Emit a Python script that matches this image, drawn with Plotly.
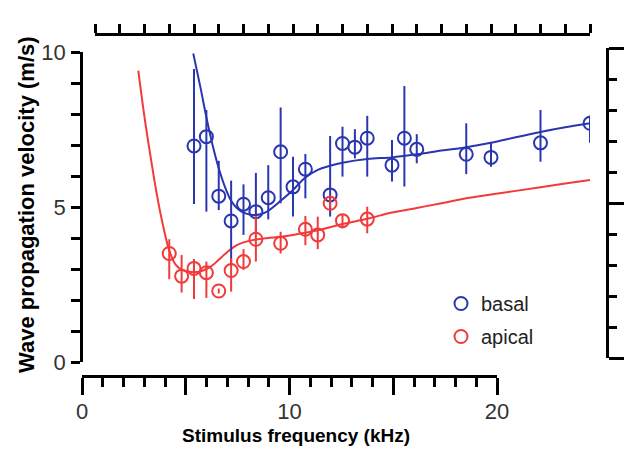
import plotly.graph_objects as go

# ---- data (kHz, m/s) ----
basal_x = [4, 4.5, 5, 5.5, 6, 6.5, 7, 7.5, 8, 8.5, 9.5, 10, 10.5, 11, 12, 12.5, 13, 15, 16, 18, 20]
basal_y = [6.97, 7.27, 5.35, 4.55, 5.09, 4.85, 5.30, 6.78, 5.65, 6.22, 5.39, 7.05, 6.93, 7.22, 6.35, 7.22, 6.86, 6.70, 6.60, 7.07, 7.70]
basal_err_up = [2.48, 0.86, 1.14, 1.30, 0.64, 1.25, 1.05, 1.43, 0.97, 0.49, 1.90, 0.54, 0.58, 0.72, 0.81, 1.68, 0.49, 1.00, 0.49, 1.06, 0.25]
basal_err_dn = [1.87, 2.42, 0.45, 1.45, 0.99, 0.69, 0.70, 1.66, 0.96, 0.94, 0.70, 1.07, 0.36, 1.24, 0.53, 1.56, 0.45, 0.64, 0.30, 0.61, 0.63]

apical_x = [3, 3.5, 4, 4.5, 5, 5.5, 6, 6.5, 7.5, 8.5, 9, 9.5, 10, 11]
apical_y = [3.50, 2.77, 3.02, 2.88, 2.29, 2.95, 3.24, 3.96, 3.83, 4.28, 4.10, 5.12, 4.56, 4.61]
apical_err_up = [0.46, 0.68, 0.30, 0.36, 0.08, 0.40, 0.40, 0.75, 0.37, 0.43, 0.59, 0.15, 0.20, 0.40]
apical_err_dn = [0.83, 0.53, 0.99, 0.81, 0.08, 0.68, 0.27, 0.72, 0.33, 0.51, 0.46, 0.15, 0.25, 0.46]

basal_fit_x = [3.97, 4.25, 4.5, 4.75, 5.0, 5.25, 5.5, 5.75, 6.0, 6.25, 6.5, 6.75, 7.0, 7.5, 8.0, 8.5, 9.0, 9.5,
               10, 11, 12, 13, 14, 15, 16, 17, 18, 19, 20]
basal_fit_y = [9.95, 8.9, 7.9, 7.0, 6.25, 5.65, 5.2, 4.95, 4.82, 4.76, 4.74, 4.78, 4.88, 5.2, 5.55, 5.95, 6.2, 6.33,
               6.43, 6.55, 6.6, 6.7, 6.82, 6.93, 7.07, 7.25, 7.42, 7.57, 7.7]

apical_fit_x = [1.75, 2.0, 2.25, 2.5, 2.75, 3.0, 3.25, 3.5, 3.75, 4.0, 4.25, 4.5, 4.75, 5.0, 5.25, 5.5, 5.75, 6.0,
                6.5, 7, 7.5, 8, 9, 10, 11, 12, 13, 14, 15, 16, 17, 18, 19, 20]
apical_fit_y = [9.4, 7.9, 6.6, 5.4, 4.4, 3.6, 3.15, 2.98, 2.92, 2.9, 2.92, 3.0, 3.12, 3.3, 3.48, 3.65, 3.78, 3.86,
                3.95, 4.0, 4.04, 4.1, 4.25, 4.45, 4.62, 4.82, 4.97, 5.12, 5.28, 5.4, 5.52, 5.64, 5.76, 5.87]

x_tickvals = [0, 5, 10, 15, 20]
x_ticktext = ["0", "", "10", "", "20"]
y_tickvals = [0, 5, 10]
y_ticktext = ["0", "5", "10"]

BLUE = "#2a36b0"
RED = "#f23a3a"
W, H = 624, 449
SANS = "Liberation Sans, Arial, sans-serif"

fig = go.Figure()

fig.add_trace(go.Scatter(x=basal_fit_x, y=basal_fit_y, mode="lines", line=dict(color=BLUE, width=2, shape="spline"),
                         showlegend=False, hoverinfo="skip"))
fig.add_trace(go.Scatter(x=apical_fit_x, y=apical_fit_y, mode="lines", line=dict(color=RED, width=2, shape="spline"),
                         showlegend=False, hoverinfo="skip"))

fig.add_trace(go.Scatter(
    x=basal_x, y=basal_y, mode="markers", name="basal", legendgroup="a",
    marker=dict(symbol="circle-open", size=13, color=BLUE, line=dict(width=2, color=BLUE)),
    error_y=dict(type="data", symmetric=False, array=basal_err_up, arrayminus=basal_err_dn,
                 color=BLUE, thickness=2, width=0)))
fig.add_trace(go.Scatter(
    x=apical_x, y=apical_y, mode="markers", name="apical", legendgroup="b",
    marker=dict(symbol="circle-open", size=13, color=RED, line=dict(width=2, color=RED)),
    error_y=dict(type="data", symmetric=False, array=apical_err_up, arrayminus=apical_err_dn,
                 color=RED, thickness=2, width=0)))

# dummy trace to carry the decorative bottom / right axes
fig.add_trace(go.Scatter(x=[None], y=[None], xaxis="x2", yaxis="y2", showlegend=False, hoverinfo="skip"))

axis_common = dict(showgrid=False, zeroline=False, showline=True, linecolor="black", linewidth=2.5,
                   ticks="outside", tickcolor="black", tickwidth=2.5, automargin=False)
tickfont = dict(family=SANS, size=22, color="#333333")

fig.update_layout(
    width=W, height=H, margin=dict(l=0, r=0, t=0, b=0, autoexpand=False),
    paper_bgcolor="white", plot_bgcolor="rgba(0,0,0,0)",
    showlegend=True,
    legend=dict(x=441 / W, y=1 - 284 / H, xanchor="left", yanchor="top",
                font=dict(family=SANS, size=20, color="#222222"),
                bgcolor="rgba(0,0,0,0)", traceorder="grouped", tracegroupgap=4),
    # data x-axis drawn as the top frame axis
    xaxis=dict(**axis_common, domain=[95 / W, 590 / W], range=[0, 20], anchor="free", position=1 - 34 / H,
               side="top", tickmode="array", tickvals=x_tickvals, ticktext=["", "", "", "", ""], ticklen=18,
               showticklabels=False,
               minor=dict(dtick=1, tick0=0, ticks="outside", ticklen=9, tickwidth=2.5, tickcolor="black")),
    # left y-axis (data)
    yaxis=dict(**axis_common, domain=[(H - 362) / H, (H - 52) / H], range=[0, 10], anchor="free",
               position=81 / W, tickmode="array", tickvals=y_tickvals, ticktext=y_ticktext, ticklen=9,
               tickfont=tickfont, ticklabelstandoff=1,
               minor=dict(dtick=1, tick0=0, ticks="outside", ticklen=9, tickwidth=2.5, tickcolor="black")),
    # bottom labelled axis
    xaxis2=dict(**axis_common, domain=[82 / W, 497 / W], range=[0, 20], anchor="free", position=1 - 376 / H,
                side="bottom", tickmode="array", tickvals=x_tickvals, ticktext=x_ticktext, ticklen=17,
                tickfont=tickfont, ticklabelstandoff=-2,
                minor=dict(dtick=1, tick0=0, ticks="outside", ticklen=9, tickwidth=2.5, tickcolor="black")),
    # right frame axis
    yaxis2=dict(**axis_common, domain=[(H - 358) / H, (H - 48) / H], range=[0, 10], anchor="free",
                position=607 / W, side="right", tickmode="array", tickvals=y_tickvals, ticklen=17,
                showticklabels=False,
                minor=dict(dtick=1, tick0=0, ticks="outside", ticklen=8, tickwidth=2.5, tickcolor="black")),
    annotations=[
        dict(text="<b>Stimulus frequency (kHz)</b>", xref="paper", yref="paper", x=296 / W, y=1 - 435 / H,
             xanchor="center", yanchor="middle", showarrow=False,
             font=dict(family=SANS, size=19, color="black")),
        dict(text="<b>Wave propagation velocity (m/s)</b>", xref="paper", yref="paper", x=26 / W, y=1 - 205 / H,
             xanchor="center", yanchor="middle", showarrow=False, textangle=-90,
             font=dict(family=SANS, size=22, color="black")),
    ],
)

fig.write_html("out.html")
